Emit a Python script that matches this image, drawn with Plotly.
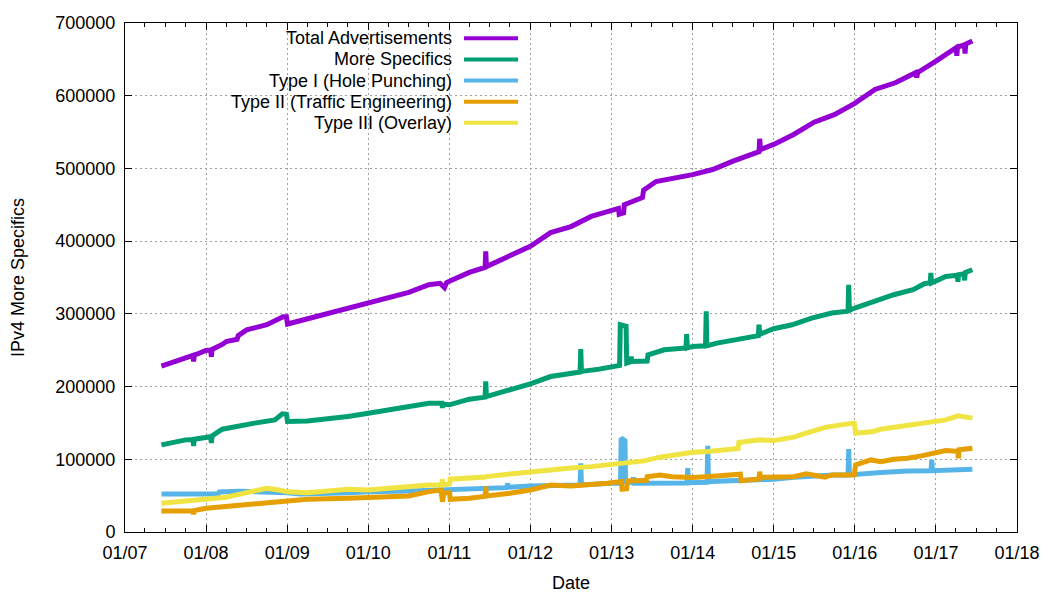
import plotly.graph_objects as go

FONT = "Liberation Sans"
X_AXIS_TITLE = "Date"
Y_AXIS_TITLE = "IPv4 More Specifics"

x_tick_dates = ["2007-01-01", "2008-01-01", "2009-01-01", "2010-01-01", "2011-01-01", "2012-01-01",
                "2013-01-01", "2014-01-01", "2015-01-01", "2016-01-01", "2017-01-01", "2018-01-01"]
x_tick_labels = ["01/07", "01/08", "01/09", "01/10", "01/11", "01/12",
                 "01/13", "01/14", "01/15", "01/16", "01/17", "01/18"]
y_tick_values = [0, 100000, 200000, 300000, 400000, 500000, 600000, 700000]

total_dates = [
    "2007-06-14", "2007-10-01", "2007-11-03", "2007-11-06", "2007-11-09", "2008-01-01", "2008-01-22",
    "2008-01-25", "2008-01-28", "2008-03-14", "2008-04-01", "2008-05-20", "2008-05-25", "2008-07-02",
    "2008-10-01", "2008-12-13", "2008-12-28", "2009-01-02", "2009-04-01", "2009-07-02", "2009-10-01",
    "2010-01-01", "2010-04-01", "2010-07-02", "2010-10-01", "2010-11-20", "2010-12-10", "2010-12-20",
    "2011-01-01", "2011-04-01", "2011-06-11", "2011-06-14", "2011-06-17", "2011-10-01", "2012-01-01",
    "2012-04-01", "2012-07-02", "2012-10-01", "2013-01-01", "2013-02-01", "2013-02-04", "2013-02-24",
    "2013-02-27", "2013-05-20", "2013-05-25", "2013-07-20", "2014-01-01", "2014-04-01", "2014-07-02",
    "2014-10-27", "2014-10-30", "2014-11-03", "2015-01-01", "2015-04-01", "2015-07-02", "2015-10-01",
    "2016-01-01", "2016-04-01", "2016-07-02", "2016-10-01", "2016-10-06", "2016-10-11", "2017-01-01",
    "2017-04-02", "2017-04-05", "2017-04-08", "2017-05-09", "2017-05-12", "2017-05-15", "2017-06-14",
]
total_values = [
    228000, 240500, 243000, 234500, 243000, 249700, 250500,
    241000, 251000, 258000, 262000, 265000, 270000, 278000,
    285000, 296000, 296000, 286000, 293000, 301500, 308000,
    315000, 322000, 329500, 340000, 342000, 336000, 343000,
    344700, 357000, 364000, 386000, 365000, 379000, 393000,
    411700, 420000, 434000, 443000, 445000, 437000, 439000,
    450000, 460000, 470000, 482000, 491500, 498500, 510000,
    523000, 540700, 526000, 533000, 546700, 563600, 574000,
    589400, 608600, 617800, 631600, 625000, 632000, 647600,
    666000, 655000, 667000, 670000, 658000, 671000, 675200,
]

more_dates = [
    "2007-06-14", "2007-10-01", "2007-11-03", "2007-11-06", "2007-11-09", "2008-01-01", "2008-01-22",
    "2008-01-25", "2008-01-28", "2008-03-14", "2008-05-01", "2008-08-07", "2008-11-06", "2008-12-10",
    "2008-12-28", "2009-01-02", "2009-04-01", "2009-07-02", "2009-10-01", "2010-01-01", "2010-04-01",
    "2010-07-02", "2010-10-01", "2010-11-28", "2010-12-01", "2010-12-04", "2011-01-01", "2011-04-01",
    "2011-06-11", "2011-06-14", "2011-06-17", "2011-10-01", "2012-01-01", "2012-04-01", "2012-08-12",
    "2012-08-15", "2012-08-18", "2012-11-06", "2013-01-01", "2013-02-06", "2013-02-09", "2013-03-07",
    "2013-03-10", "2013-03-27", "2013-03-30", "2013-04-02", "2013-06-10", "2013-06-14", "2013-08-26",
    "2013-12-02", "2013-12-05", "2013-12-08", "2014-01-01", "2014-02-28", "2014-03-03", "2014-03-06",
    "2014-04-20", "2014-07-20", "2014-09-13", "2014-10-24", "2014-10-27", "2014-10-30", "2015-01-01",
    "2015-03-25", "2015-06-21", "2015-09-20", "2015-11-24", "2015-12-02", "2015-12-05", "2015-12-08",
    "2016-01-01", "2016-03-25", "2016-06-25", "2016-09-20", "2016-11-10", "2016-12-06", "2016-12-09",
    "2016-12-12", "2017-02-14", "2017-04-07", "2017-04-10", "2017-04-13", "2017-05-07", "2017-05-10",
    "2017-05-13", "2017-06-14",
]
more_values = [
    119800, 126700, 127000, 118400, 127500, 130400, 131000,
    122500, 132000, 141400, 143600, 149700, 154200, 162500,
    162000, 151900, 152800, 155200, 158800, 163400, 168000,
    172500, 177100, 177000, 170700, 176000, 174900, 182700,
    185500, 207000, 186300, 195500, 203800, 213800, 220000,
    251500, 220800, 224000, 227700, 229000, 285000, 283000,
    232300, 234000, 241400, 234500, 235000, 243700, 250600,
    253000, 272200, 253000, 255200, 256000, 303400, 256000,
    259800, 264400, 268100, 270000, 285000, 272000, 279500,
    285000, 294200, 301100, 303400, 304000, 340100, 305000,
    308000, 317100, 326300, 333200, 341500, 343000, 356200,
    342400, 351500, 353000, 344000, 353900, 355000, 346000,
    357000, 360700,
]

type1_dates = [
    "2007-06-14", "2008-02-25", "2008-03-01", "2008-06-01", "2009-01-01", "2009-03-01", "2009-10-01",
    "2010-01-01", "2010-07-02", "2011-01-01", "2011-04-01", "2011-07-02", "2011-09-17", "2011-09-20",
    "2011-09-23", "2012-01-01", "2012-05-08", "2012-08-12", "2012-08-15", "2012-08-18", "2013-01-01",
    "2013-02-10", "2013-02-13", "2013-02-27", "2013-03-02", "2013-03-05", "2013-04-06", "2013-04-09",
    "2013-04-12", "2013-12-07", "2013-12-10", "2013-12-13", "2014-03-07", "2014-03-10", "2014-03-13",
    "2015-01-01", "2015-04-01", "2015-10-01", "2015-12-02", "2015-12-05", "2015-12-08", "2016-04-27",
    "2016-08-26", "2016-12-10", "2016-12-13", "2016-12-16", "2017-06-14",
]
type1_values = [
    52300, 52300, 55100, 56000, 54100, 52300, 54000,
    55500, 56500, 57800, 59200, 60500, 61000, 67000,
    61500, 63300, 64700, 64700, 94600, 64700, 67000,
    67000, 129000, 126000, 125700, 69000, 68000, 75300,
    67000, 67500, 87700, 67900, 68500, 118400, 69300,
    72600, 75300, 78500, 78500, 113900, 78500, 81700,
    84000, 84200, 99100, 84400, 86300,
]

type2_dates = [
    "2007-06-14", "2007-10-01", "2007-11-03", "2007-11-06", "2007-11-09", "2008-01-01", "2008-04-01",
    "2008-07-02", "2008-10-01", "2009-01-01", "2009-04-01", "2009-10-01", "2010-01-01", "2010-07-02",
    "2010-10-01", "2010-11-24", "2010-12-01", "2010-12-08", "2011-01-02", "2011-01-05", "2011-04-01",
    "2011-06-11", "2011-06-14", "2011-06-17", "2011-10-01", "2012-01-01", "2012-04-01", "2012-07-02",
    "2012-12-13", "2013-02-14", "2013-02-17", "2013-03-10", "2013-03-13", "2013-06-07", "2013-06-10",
    "2013-08-07", "2013-10-01", "2014-01-01", "2014-03-01", "2014-07-02", "2014-08-04", "2014-08-07",
    "2014-10-01", "2014-10-27", "2014-10-30", "2014-11-02", "2015-04-01", "2015-05-27", "2015-08-20",
    "2015-09-20", "2015-12-30", "2016-01-05", "2016-03-14", "2016-04-27", "2016-06-25", "2016-08-26",
    "2016-10-27", "2017-01-01", "2017-02-14", "2017-04-09", "2017-04-12", "2017-04-15", "2017-06-14",
]
type2_values = [
    28900, 28900, 29000, 24500, 29500, 32600, 34900,
    37200, 39500, 42700, 45000, 46400, 47800, 49600,
    55500, 57800, 41700, 54100, 54100, 45000, 46400,
    49000, 62400, 49600, 53300, 57800, 64700, 63300,
    67000, 69300, 58800, 59500, 70200, 71000, 76100,
    78500, 76100, 74800, 76100, 79900, 79500, 70600,
    72600, 73000, 83000, 75300, 76100, 79900, 75300,
    78500, 78500, 92300, 99100, 96800, 100100, 101500,
    104700, 108400, 112000, 111000, 101500, 113000, 115300,
]

type3_dates = [
    "2007-06-14", "2007-10-01", "2008-01-01", "2008-04-01", "2008-07-02", "2008-10-01", "2008-11-24",
    "2009-01-01", "2009-04-01", "2009-07-02", "2009-10-01", "2010-01-01", "2010-04-01", "2010-07-02",
    "2010-10-01", "2010-11-28", "2010-12-01", "2010-12-04", "2011-01-02", "2011-01-05", "2011-04-01",
    "2011-06-11", "2011-06-14", "2011-06-17", "2011-10-01", "2012-01-01", "2012-04-01", "2012-07-02",
    "2012-10-01", "2013-01-01", "2013-03-14", "2013-05-27", "2013-08-07", "2013-10-19", "2014-01-01",
    "2014-03-14", "2014-06-03", "2014-07-25", "2014-07-28", "2014-10-30", "2015-01-01", "2015-04-01",
    "2015-05-27", "2015-08-26", "2015-12-24", "2015-12-30", "2016-01-05", "2016-03-25", "2016-04-27",
    "2016-08-26", "2016-11-24", "2017-02-14", "2017-04-12", "2017-06-14",
]
type3_values = [
    39500, 42700, 45000, 47800, 54100, 60200, 57800,
    55500, 54100, 56500, 58800, 57800, 60200, 63300,
    64700, 65000, 72600, 64700, 66000, 72600, 73900,
    75500, 78000, 76100, 79900, 83000, 86300, 88000,
    89900, 93200, 95500, 97800, 102900, 107000, 109700,
    110600, 113900, 115000, 123000, 126700, 125700, 130400,
    135900, 144200, 149700, 149700, 135900, 138100, 141400,
    146000, 151100, 154200, 159700, 156600,
]

series = [
    ("Total Advertisements", total_dates, total_values, "#9400d3"),
    ("More Specifics", more_dates, more_values, "#009e73"),
    ("Type I (Hole Punching)", type1_dates, type1_values, "#56b4e9"),
    ("Type II (Traffic Engineering)", type2_dates, type2_values, "#e69f00"),
    ("Type III (Overlay)", type3_dates, type3_values, "#f0e442"),
]

fig = go.Figure()
for name, dates, values, color in series:
    fig.add_trace(
        go.Scatter(
            x=dates,
            y=values,
            name=name,
            mode="lines",
            line={"color": color, "width": 5},
            showlegend=False,
        )
    )

# gnuplot-style key: text on the left, sample line on the right, opaque box
fig.add_shape(
    type="rect", xref="paper", yref="paper", x0=0.002, x1=0.452, y0=0.784, y1=0.997,
    fillcolor="white", line={"width": 0}, layer="between",
)
for index, (name, dates, values, color) in enumerate(series):
    y_pos = 0.970 - index * 0.0415
    fig.add_annotation(
        x=0.369, y=y_pos, xref="paper", yref="paper", text=name, showarrow=False,
        xanchor="right", yanchor="middle", font={"size": 18, "color": "black", "family": FONT},
    )
    fig.add_shape(
        type="line", xref="paper", yref="paper", x0=0.380, x1=0.4406, y0=y_pos, y1=y_pos,
        line={"color": color, "width": 4},
    )

fig.update_xaxes(
    type="date",
    range=["2007-01-01", "2018-01-01"],
    tickvals=x_tick_dates,
    ticktext=x_tick_labels,
    ticks="inside",
    ticklen=7,
    tickcolor="black",
    minor={"dtick": "M3", "tick0": "2007-01-01", "ticks": "inside", "ticklen": 4,
           "tickcolor": "black", "showgrid": False},
    showline=True,
    linecolor="black",
    linewidth=1,
    mirror="allticks",
    showgrid=True,
    gridcolor="#a0a0a0",
    griddash="2px,3px",
    gridwidth=1,
    zeroline=False,
    ticklabelstandoff=4,
    tickfont={"size": 18},
    title={"text": X_AXIS_TITLE, "font": {"size": 18}, "standoff": 14},
)
fig.update_yaxes(
    range=[0, 700000],
    tickvals=y_tick_values,
    tickformat="d",
    ticks="inside",
    ticklen=7,
    tickcolor="black",
    showline=True,
    linecolor="black",
    linewidth=1,
    mirror="allticks",
    showgrid=True,
    gridcolor="#a0a0a0",
    griddash="2px,3px",
    gridwidth=1,
    zeroline=False,
    ticklabelstandoff=5,
    tickfont={"size": 18},
    title={"text": Y_AXIS_TITLE, "font": {"size": 18}, "standoff": 27},
)
# the page body adds an 8px offset, margins account for it
fig.update_layout(
    width=1050,
    height=600,
    margin={"l": 117, "r": 41, "t": 15, "b": 76, "autoexpand": False},
    plot_bgcolor="white",
    paper_bgcolor="white",
    font={"family": FONT, "color": "black", "size": 18},
    showlegend=False,
)

fig.write_html("out.html")
